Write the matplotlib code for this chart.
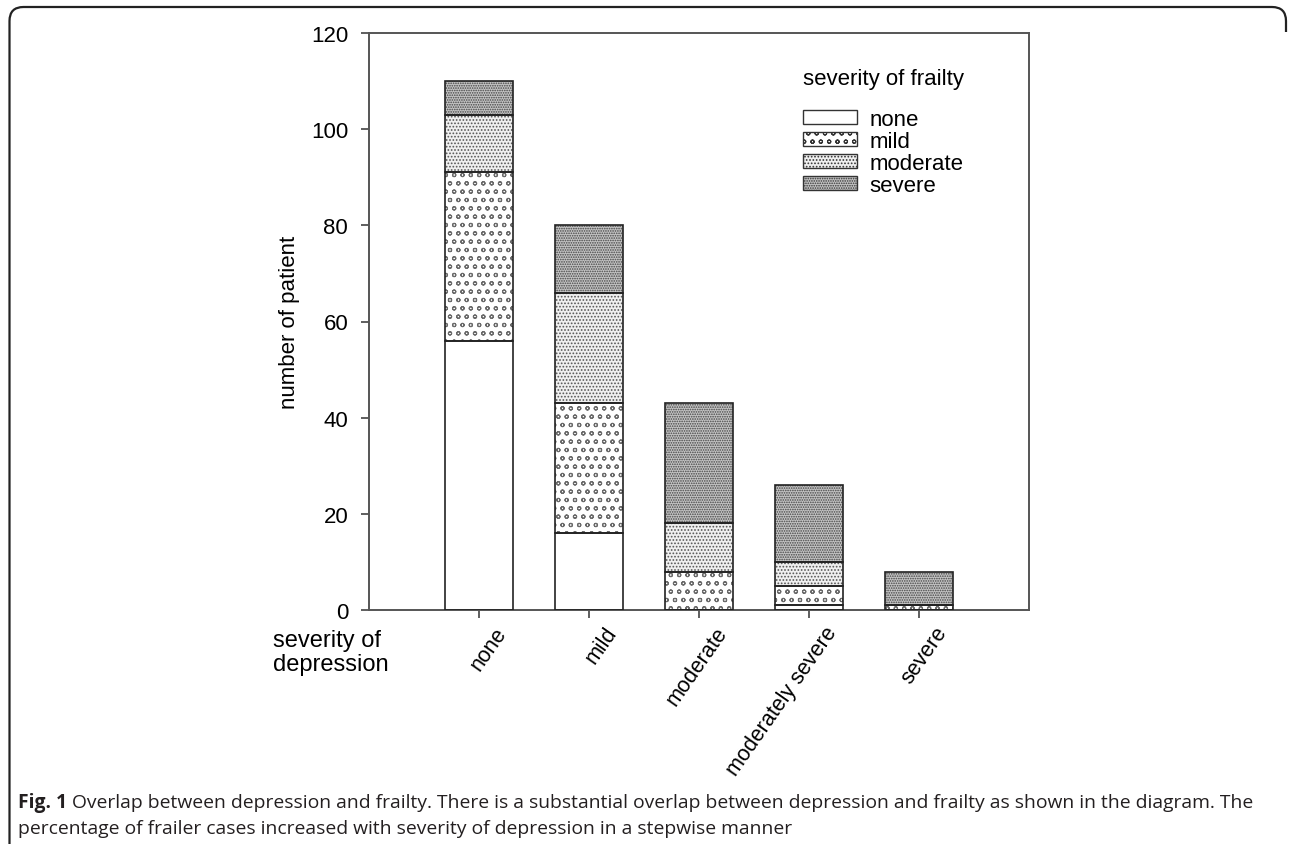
import matplotlib
matplotlib.use("Agg")
import matplotlib.pyplot as plt
import matplotlib.transforms as mtransforms
from matplotlib.patches import Patch, PathPatch
from matplotlib.path import Path
import numpy as np

# depression severity groups (x axis)
depression = ["none", "mild", "moderate", "moderately severe", "severe"]

# frailty severity counts per depression group (stacked)
frail_none = [56, 16, 0, 1, 0]
frail_mild = [35, 27, 8, 4, 1]
frail_moderate = [12, 23, 10, 5, 0]
frail_severe = [7, 14, 25, 16, 7]

frailty_labels = ["none", "mild", "moderate", "severe"]
y_ticks = [0, 20, 40, 60, 80, 100, 120]

caption_bold = "Fig. 1"
caption_line1 = (" Overlap between depression and frailty. There is a substantial overlap "
                 "between depression and frailty as shown in the diagram. The")
caption_line2 = "percentage of frailer cases increased with severity of depression in a stepwise manner"

plt.rcParams["font.family"] = ["Liberation Sans", "DejaVu Sans"]
plt.rcParams["hatch.linewidth"] = 0.8

W, H = 1292, 845
fig = plt.figure(figsize=(W / 100, H / 100), dpi=100)
ax = fig.add_axes([369 / W, 1 - 611 / H, 660 / W, 577 / H])

x = np.arange(len(depression))
width = 0.61
series = [frail_none, frail_mild, frail_moderate, frail_severe]
faces = ["white", "white", "#efefef", "#c4c4c4"]
hatches = [None, "oo", ".....", "......."]
hatch_cols = ["black", "#6a6a6a", "#555555", "#444444"]

bottom = np.zeros(len(x))
for vals, fc, hatch, hc in zip(series, faces, hatches, hatch_cols):
    vals = np.array(vals)
    # hatch layer
    ax.bar(x, vals, width, bottom=bottom, color=fc, hatch=hatch,
           edgecolor=hc, linewidth=0, zorder=2)
    # outline layer
    ax.bar(x, vals, width, bottom=bottom, fill=False,
           edgecolor="#222222", linewidth=1.2, zorder=3)
    bottom += vals

ax.set_xlim(-1, 5)
ax.set_ylim(0, 120)
ax.set_yticks(y_ticks)
ax.set_xticks(x)
ax.tick_params(axis="both", direction="out", length=6, width=1.1,
               labelsize=16, colors="#333333", labelcolor="black")
ax.tick_params(axis="y", pad=9)
ax.tick_params(axis="x", pad=3)
for s in ax.spines.values():
    s.set_color("#555555")
    s.set_linewidth(1.4)

offset = mtransforms.ScaledTranslation(15 / 100, 0, fig.dpi_scale_trans)
ax.set_xticklabels(depression, rotation=55, ha="right", va="top",
                   rotation_mode="anchor", fontsize=15.5)
for lbl in ax.get_xticklabels():
    lbl.set_transform(lbl.get_transform() + offset)

ax.set_ylabel("number of patient", fontsize=16)
ax.yaxis.set_label_coords(-0.105, 0.5)

fig.text(273 / W, 1 - 630 / H, "severity of\ndepression", fontsize=17,
         ha="left", va="top", linespacing=1.1)

# legend
handles = [Patch(facecolor=fc, edgecolor="#333333", hatch=h, linewidth=1.0)
           for fc, h in zip(faces, hatches)]
leg = ax.legend(handles, frailty_labels, title="severity of frailty",
                loc="upper left", bbox_to_anchor=(0.641, 0.958), frameon=False,
                fontsize=16, title_fontsize=16, handlelength=2.4,
                handleheight=0.6, labelspacing=0.05, handletextpad=0.6,
                borderpad=0, alignment="left")
leg._legend_box.sep = 14

# outer frame
r = 14
left, right, top, bot = 9.5, 1286, H - 8, -5
verts = [(left, bot), (left, top - r), (left, top), (left + r, top),
         (right - r, top), (right, top), (right, top - r), (right, top - 25)]
codes = [Path.MOVETO, Path.LINETO, Path.CURVE3, Path.CURVE3,
         Path.LINETO, Path.CURVE3, Path.CURVE3, Path.LINETO]
frame = PathPatch(Path(verts, codes), transform=None, fill=False,
                  edgecolor="#222222", linewidth=1.6)
fig.patches.append(frame)

# caption, font size fitted so line 1 spans the same width as the reference
cap_font = ["Open Sans", "DejaVu Sans"]
cap_size = 14
t1 = fig.text(18 / W, 1 - 808 / H, caption_bold, fontsize=cap_size,
              fontweight="bold", family=cap_font, color="#231f20", va="baseline")
t2 = fig.text(0, 1 - 808 / H, caption_line1, fontsize=cap_size, family=cap_font,
              color="#231f20", va="baseline")
renderer = fig.canvas.get_renderer()
for _ in range(3):
    w = t1.get_window_extent(renderer).width + t2.get_window_extent(renderer).width
    cap_size *= 1237 / w
    t1.set_fontsize(cap_size)
    t2.set_fontsize(cap_size)
t2.set_x(t1.get_window_extent(renderer).x1 / W)
fig.text(18 / W, 1 - 834 / H, caption_line2, fontsize=cap_size, family=cap_font,
         color="#231f20", va="baseline")

fig.savefig("out.png", dpi=100)
